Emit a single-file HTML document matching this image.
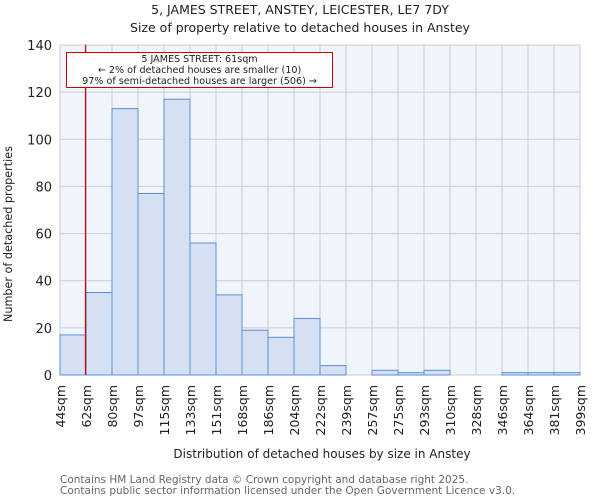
<!DOCTYPE html>
<html><head><meta charset="utf-8"><style>
body{margin:0;background:#fff;font-family:"DejaVu Sans","Liberation Sans",sans-serif;}
svg text{font-family:"DejaVu Sans","Liberation Sans",sans-serif;}
</style></head><body>
<svg id="chart" width="600" height="500" xmlns="http://www.w3.org/2000/svg">
<text x="300" y="14" text-anchor="middle" font-size="12.5" fill="#222">5, JAMES STREET, ANSTEY, LEICESTER, LE7 7DY</text>
<text x="300" y="32" text-anchor="middle" font-size="12.5" fill="#222">Size of property relative to detached houses in Anstey</text>
<rect x="60" y="45" width="520" height="330" fill="#f0f4fc"/>
<g id="grid"></g><g id="bars"></g><g id="xt"></g><g id="yt"></g>
<text transform="translate(12,234) rotate(-90)" text-anchor="middle" font-size="11.2" fill="#222">Number of detached properties</text>
<text x="322" y="458" text-anchor="middle" font-size="12" fill="#222">Distribution of detached houses by size in Anstey</text>
<text x="60" y="483" font-size="10.5" fill="#666">Contains HM Land Registry data © Crown copyright and database right 2025.</text>
<text x="60" y="494" font-size="10.5" fill="#666">Contains public sector information licensed under the Open Government Licence v3.0.</text>
</svg>
<script>
const edgeLabels=["44sqm","62sqm","80sqm","97sqm","115sqm","133sqm","151sqm","168sqm","186sqm","204sqm","222sqm","239sqm","257sqm","275sqm","293sqm","310sqm","328sqm","346sqm","364sqm","381sqm","399sqm"];
const counts=[17,35,113,77,117,56,34,19,16,24,4,0,2,1,2,0,0,1,1,1];
const yTicks=[0,20,40,60,80,100,120,140];
const markerSize=61;
const edgeValues=[44,62,80,97,115,133,151,168,186,204,222,239,257,275,293,310,328,346,364,381,399];
const X0=60,W=520,Y0=375,H=330,YMAX=140;
const n=counts.length,bw=W/n;
const xs=i=>X0+i*bw;
const ys=v=>Y0-v/YMAX*H;
const NS="http://www.w3.org/2000/svg";
function mk(t,p,a){const e=document.createElementNS(NS,t);for(const k in a)e.setAttribute(k,a[k]);p.appendChild(e);return e;}
const grid=document.getElementById('grid'),bars=document.getElementById('bars'),xt=document.getElementById('xt'),yt=document.getElementById('yt');
yTicks.forEach(v=>{
 const l=mk('line',grid,{x1:X0,x2:X0+W,y1:ys(v),y2:ys(v),stroke:'#ccc','stroke-width':1});
 
 
 const t=mk('text',yt,{x:X0-8,y:ys(v)+5,'text-anchor':'end','font-size':13,fill:'#222'});
 t.textContent=v;
 
 
});
edgeLabels.forEach((s,i)=>{
 const l=mk('line',grid,{x1:xs(i),x2:xs(i),y1:Y0-H,y2:Y0,stroke:'#ccc','stroke-width':1});
 
 
 const t=mk('text',xt,{transform:`translate(${xs(i)+5},385) rotate(-90)`,'text-anchor':'end','font-size':12.5,fill:'#222'});
 t.textContent=s;
 
 
});
counts.forEach((c,i)=>{
 if(c<=0)return;
 const r=mk('rect',bars,{x:xs(i),y:ys(c),width:bw,height:Y0-ys(c),fill:'#d6e0f3',stroke:'#5a8fd8','stroke-width':1});
 
 
});
let k=0;while(k<edgeValues.length-2&&edgeValues[k+1]<markerSize)k++;
const mx=xs(k+(markerSize-edgeValues[k])/(edgeValues[k+1]-edgeValues[k]))+1;
const ml=mk('line',bars,{x1:mx,x2:mx,y1:Y0-H,y2:Y0,stroke:'#c00','stroke-width':1.3});


const box=mk('rect',bars,{x:66.5,y:52.5,width:266,height:35,fill:'#fff',stroke:'#c00','stroke-width':1});


["5 JAMES STREET: 61sqm","← 2% of detached houses are smaller (10)","97% of semi-detached houses are larger (506) →"].forEach((s,i)=>{
 const t=mk('text',bars,{x:199.5,y:62+i*11,'text-anchor':'middle','font-size':9.6,fill:'#222'});
 t.textContent=s;
 
 
});
</script>
</body></html>
